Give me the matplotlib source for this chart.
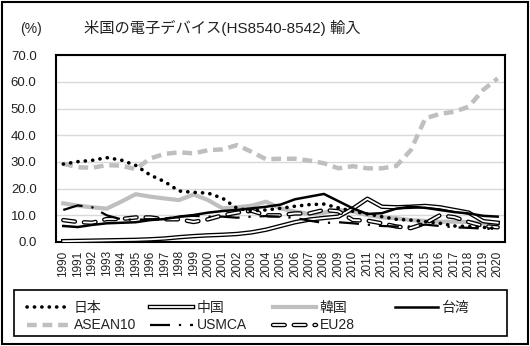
import matplotlib
matplotlib.use("Agg")
import matplotlib.pyplot as plt
import matplotlib.patheffects as pe
from matplotlib.patches import Rectangle

plt.rcParams['font.family'] = ['Liberation Sans', 'Noto Sans CJK JP', 'DejaVu Sans']

years = list(range(1990, 2021))
japan = [29.2, 30.1, 30.6, 31.6, 30.7, 28.7, 25.1, 22.6, 19.1, 18.6, 18.3, 16.4, 12.6, 11.7, 12.0,
         12.6, 13.4, 14.0, 14.2, 12.8, 11.5, 10.5, 9.5, 8.5, 8.2, 7.6, 7.0, 6.0, 5.8, 5.5, 5.0]
china = [0.3, 0.4, 0.5, 0.6, 0.7, 0.8, 1.0, 1.3, 1.8, 2.2, 2.5, 2.7, 3.0, 3.6, 4.6,
         6.0, 7.4, 8.4, 9.0, 9.5, 12.5, 16.2, 13.2, 13.0, 13.2, 13.5, 13.0, 12.0, 11.0, 7.8, 7.2]
korea = [14.5, 13.6, 13.0, 12.5, 15.1, 17.9, 17.0, 16.3, 15.7, 17.8, 15.7, 12.6, 13.0, 13.6, 15.1,
         12.6, 11.4, 10.5, 11.0, 12.0, 11.4, 10.1, 9.2, 8.9, 8.2, 7.9, 7.6, 7.6, 7.5, 7.0, 7.0]
taiwan = [6.0, 5.6, 6.4, 7.0, 7.2, 7.4, 8.2, 8.6, 9.5, 10.1, 11.0, 11.6, 12.0, 12.6, 13.2,
          14.0, 16.0, 17.0, 18.0, 15.3, 12.6, 10.5, 10.8, 12.5, 13.2, 12.8, 12.0, 11.2, 10.7, 9.8, 9.5]
asean = [29.3, 28.0, 27.8, 28.8, 28.6, 27.3, 31.3, 33.0, 33.6, 33.2, 34.4, 34.7, 36.3, 33.8, 31.0,
         31.2, 31.2, 30.5, 29.5, 27.6, 28.4, 27.6, 27.6, 28.5, 34.4, 46.3, 48.0, 48.8, 50.7, 57.0, 61.3]
usmca = [12.0, 13.7, 13.0, 10.0, 8.5, 8.3, 8.5, 8.8, 9.5, 9.8, 9.5, 9.5, 9.1, 9.5, 9.7,
         9.5, 9.0, 8.0, 7.1, 7.4, 7.0, 6.5, 6.0, 5.8, 5.8, 6.5, 6.0, 5.5, 5.3, 5.0, 4.8]
eu28 = [8.2, 7.5, 7.2, 8.6, 8.6, 9.2, 9.2, 8.5, 8.5, 7.5, 8.5, 10.0, 11.0, 11.7, 10.0,
        10.0, 10.7, 10.7, 12.0, 11.5, 8.2, 8.0, 7.0, 5.8, 5.2, 7.0, 10.0, 9.3, 7.5, 6.0, 5.5]
yticks = [0, 10, 20, 30, 40, 50, 60, 70]

fig = plt.figure(figsize=(5.30, 3.46), dpi=100)
ax = fig.add_axes([0.1057, 0.3006, 0.847, 0.540])
x = list(range(len(years)))

gray = '#bfbfbf'
l_asean, = ax.plot(x, asean, color=gray, lw=3.2, linestyle=(0, (2.2, 1.3)), label='ASEAN10', zorder=2)
l_korea, = ax.plot(x, korea, color=gray, lw=3.0, label='韓国', zorder=2)
l_china, = ax.plot(x, china, color='white', lw=1.3, label='中国', zorder=3,
                   path_effects=[pe.withStroke(linewidth=3.2, foreground='black')])
l_eu, = ax.plot(x, eu28, color='white', lw=1.3, label='EU28', zorder=3,
                linestyle=(0, (6.5, 5.0)), dash_capstyle='round',
                path_effects=[pe.withStroke(linewidth=3.2, foreground='black')])
l_taiwan, = ax.plot(x, taiwan, color='black', lw=1.8, label='台湾', zorder=4)
l_usmca, = ax.plot(x, usmca, color='black', lw=1.6, linestyle=(0, (9, 4, 1, 4)), label='USMCA', zorder=4)
l_japan, = ax.plot(x, japan, color='black', lw=2.6, linestyle=(0, (0.05, 2.0)),
                   dash_capstyle='round', label='日本', zorder=5)

ax.set_xlim(-0.5, len(years) - 0.5)
ax.set_ylim(0, 70)
ax.set_yticks(yticks)
ax.set_yticklabels([f'{v:.1f}' for v in yticks], fontsize=9.5, color='#222222')
ax.set_xticks(x)
ax.set_xticklabels([str(y) for y in years], rotation=90, fontsize=8.5, color='#222222')
ax.tick_params(length=0, pad=6)
ax.tick_params(axis='y', pad=14)
ax.grid(axis='y', color='#d9d9d9', lw=1.0)
ax.set_axisbelow(True)
for s in ax.spines.values():
    s.set_linewidth(1.5)
    s.set_color('black')

fig.text(0.038, 0.905, '(%)', fontsize=10, color='#222222')
fig.text(0.158, 0.905, '米国の電子デバイス(HS8540-8542) 輸入', fontsize=11, color='#222222')

# legend: 4 equally spaced columns inside a frame
columns = [[l_japan, l_asean], [l_china, l_usmca], [l_korea, l_eu], [l_taiwan]]
col_x = [27 / 530, 150 / 530, 273 / 530, 395 / 530]
for hs, cx in zip(columns, col_x):
    lg = fig.legend(handles=hs, labels=[h.get_label() for h in hs],
                    loc='upper left', bbox_to_anchor=(cx, 0.130), ncol=1,
                    fontsize=10, frameon=False, handlelength=3.1, handletextpad=0.25,
                    borderpad=0, labelspacing=0.25, borderaxespad=0)
    for t in lg.get_texts():
        t.set_color('#222222')

fig.patches.append(Rectangle((14 / 530, 10 / 346), 493 / 530, 46 / 346, transform=fig.transFigure,
                             fill=False, edgecolor='black', lw=1.2))
fig.patches.append(Rectangle((0.004, 0.006), 0.992, 0.988, transform=fig.transFigure,
                             fill=False, edgecolor='black', lw=1.5))

fig.savefig('out.png', dpi=100)
